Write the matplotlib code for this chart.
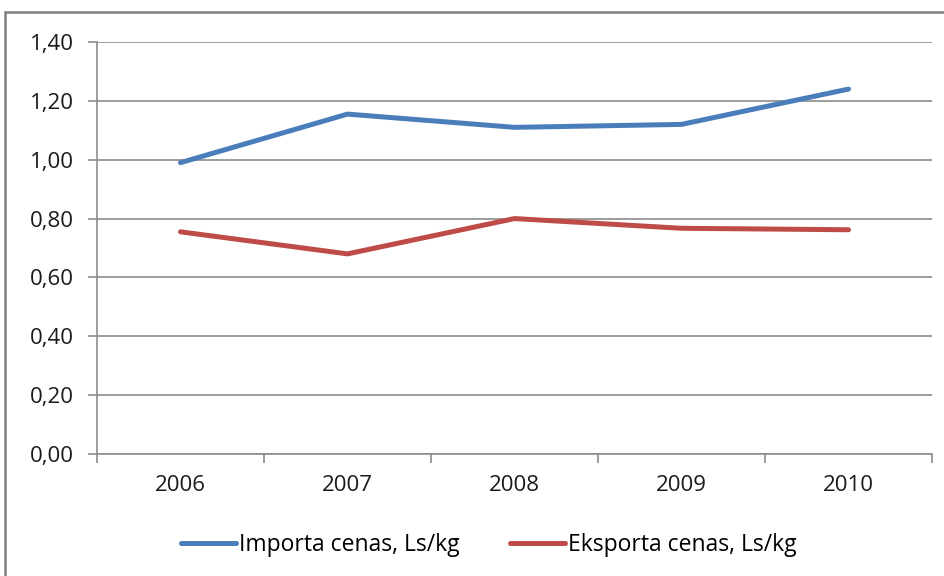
import matplotlib
matplotlib.use("Agg")
import matplotlib.pyplot as plt
from matplotlib.patches import Rectangle
from matplotlib.ticker import FuncFormatter, FixedLocator

years = ["2006", "2007", "2008", "2009", "2010"]
import_prices = [0.99, 1.155, 1.11, 1.12, 1.24]
export_prices = [0.755, 0.68, 0.80, 0.767, 0.762]

plt.rcParams["font.family"] = ["Open Sans", "DejaVu Sans"]

fig = plt.figure(figsize=(9.45, 5.76), dpi=100)
ax = fig.add_axes([97 / 945, 1 - 454 / 576, 835 / 945, 412 / 576])

x = range(len(years))
ax.plot(x, import_prices, color="#4a7ebb", lw=3.6, solid_capstyle="round",
        solid_joinstyle="round", label="Importa cenas, Ls/kg")
ax.plot(x, export_prices, color="#be4b48", lw=3.6, solid_capstyle="round",
        solid_joinstyle="round", label="Eksporta cenas, Ls/kg")

ax.set_xlim(-0.5, len(years) - 0.5)
ax.set_ylim(0, 1.4)
ax.set_yticks([0.2 * i for i in range(8)])
ax.yaxis.set_major_formatter(FuncFormatter(lambda v, p: f"{v:.2f}".replace(".", ",")))
ax.grid(axis="y", color="#8c8c8c", lw=1.2)
ax.set_axisbelow(True)

ax.set_xticks(list(x))
ax.set_xticklabels(years)
ax.xaxis.set_minor_locator(FixedLocator([i - 0.5 for i in range(len(years) + 1)]))
ax.tick_params(axis="x", which="major", length=0, pad=15, labelsize=16, colors="#1a1a1a")
ax.tick_params(axis="x", which="minor", length=6.5, width=1.2, color="#8c8c8c")
ax.tick_params(axis="y", length=6.5, width=1.2, color="#8c8c8c", labelsize=16,
               labelcolor="#1a1a1a", pad=10)

for side in ("top", "right"):
    ax.spines[side].set_visible(False)
for side in ("left", "bottom"):
    ax.spines[side].set_color("#8c8c8c")
    ax.spines[side].set_linewidth(1.2)

fig.legend(loc="center", bbox_to_anchor=(0.517, 1 - 545 / 576), ncol=2, frameon=False,
           fontsize=16.5, handlelength=2.4, handletextpad=0.12, columnspacing=2.2)

# outer chart border
fig.patches.append(Rectangle((5 / 945, -0.1), 1.2, 1 - 12 / 576 + 0.1,
                             transform=fig.transFigure, fill=False,
                             edgecolor="#7f7f7f", lw=1.8))

fig.savefig("out.png", dpi=100)
